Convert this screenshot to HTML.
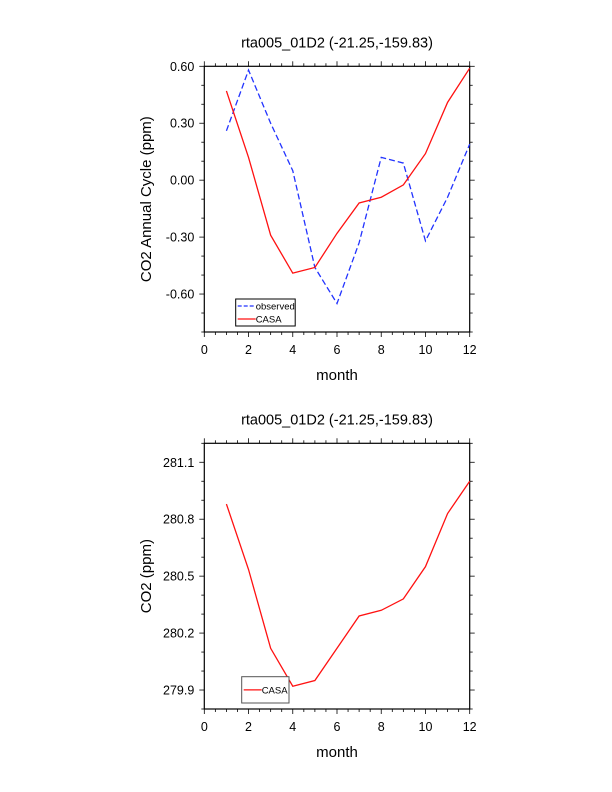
<!DOCTYPE html>
<html><head><meta charset="utf-8"><style>
body{margin:0;background:#fff;}
svg{display:block;font-family:"Liberation Sans",sans-serif;}
</style></head><body>
<svg id="chart" width="612" height="792" viewBox="0 0 612 792" xmlns="http://www.w3.org/2000/svg"></svg>
<script>
const months = [1,2,3,4,5,6,7,8,9,10,11,12];
const observedCycle = [0.26,0.58,0.30,0.05,-0.46,-0.65,-0.33,0.12,0.09,-0.32,-0.09,0.19];
const casaCycle = [0.47,0.12,-0.29,-0.49,-0.46,-0.28,-0.12,-0.09,-0.025,0.14,0.41,0.59];
const casaCO2 = [280.88,280.535,280.12,279.92,279.95,280.12,280.29,280.32,280.38,280.55,280.83,281.0];
const xTicks = [0,2,4,6,8,10,12];
const yTicksTop = [-0.6,-0.3,0,0.3,0.6];
const yTickLabelsTop = ["-0.60","-0.30","0.00","0.30","0.60"];
const yTicksBot = [279.9,280.2,280.5,280.8,281.1];
const yTickLabelsBot = ["279.9","280.2","280.5","280.8","281.1"];

const svg = document.getElementById('chart');
const NS = 'http://www.w3.org/2000/svg';
function mk(tag, attrs, parent){
  const e = document.createElementNS(NS, tag);
  for (const k in attrs) e.setAttribute(k, attrs[k]);
  (parent||svg).appendChild(e);
  return e;
}
function txt(s, attrs, parent){ const t = mk('text', attrs, parent); t.textContent = s; return t; }

function panel(o){
  const g = mk('g', {});
  
  
  const L=204.3, R=469.7, T=o.top, B=o.bottom;
  const sx = v => L + (v-0)/(12-0)*(R-L);
  const sy = v => B - (v-o.ymin)/(o.ymax-o.ymin)*(B-T);
  const frame = mk('rect',{x:L,y:T,width:R-L,height:B-T,fill:'none',stroke:'#000','stroke-width':1.2},g);
  
  
  for (let v=0; v<=12.001; v+=0.5){
    const major = Math.abs(v/2-Math.round(v/2))<1e-6;
    const len = major?5:3, x=sx(v);
    mk('line',{x1:x,y1:B,x2:x,y2:B+len,stroke:'#000','stroke-width':0.8},g);
    mk('line',{x1:x,y1:T,x2:x,y2:T-len,stroke:'#000','stroke-width':0.8},g);
  }
  xTicks.forEach(v=>{
    const t = txt(String(v),{x:sx(v),y:B+22,'font-size':12.5,'text-anchor':'middle'},g);
    
    
  });
  const step = o.minorStep;
  for (let v=o.ymin; v<=o.ymax+1e-6; v+=step){
    const k = Math.round((v-o.majors[0])/step);
    const major = k%3===0;
    const len = major?5:3, y=sy(v);
    mk('line',{x1:L,y1:y,x2:L-len,y2:y,stroke:'#000','stroke-width':0.8},g);
    mk('line',{x1:R,y1:y,x2:R+len,y2:y,stroke:'#000','stroke-width':0.8},g);
  }
  o.majors.forEach((v,i)=>{
    const t = txt(o.labels[i],{x:L-10,y:sy(v)+4.5,'font-size':12.5,'text-anchor':'end'},g);
    
    
  });
  const title = txt('rta005_01D2 (-21.25,-159.83)',{x:337,y:T-19,'font-size':14.5,'text-anchor':'middle'},g);
  
  
  const xl = txt('month',{x:337,y:B+48,'font-size':15,'text-anchor':'middle'},g);
  
  
  const yl = txt(o.ylabel,{x:0,y:0,'font-size':15,'text-anchor':'middle',transform:`translate(151,${(T+B)/2}) rotate(-90)`},g);
  
  
  o.series.forEach(s=>{
    const p = mk('polyline',{points:months.map((m,i)=>sx(m)+','+sy(s.data[i])).join(' '),fill:'none',stroke:s.color,'stroke-width':1.3,'stroke-dasharray':s.dash||'none'},g);
    
    
  });
  const lg = mk('g',{},g);
  
  
  const lb = o.legend;
  mk('rect',{x:lb.x,y:lb.y,width:lb.w,height:lb.h,fill:'#fff',stroke:lb.stroke,'stroke-width':1},lg);
  lb.entries.forEach((e,i)=>{
    const y = lb.y + lb.h/(lb.entries.length+1)*(i+1)+ (lb.entries.length>1?(i===0?-2:2):0);
    mk('line',{x1:lb.x+2,y1:y,x2:lb.x+20,y2:y,stroke:e.color,'stroke-width':1.3,'stroke-dasharray':e.dash||'none'},lg);
    const t = txt(e.label,{x:lb.x+20,y:y+3.5,'font-size':9.5},lg);
    
    
  });
}

panel({name:'annual-cycle-panel',top:66.3,bottom:332,ymin:-0.8,ymax:0.6,minorStep:0.1,
  majors:yTicksTop,labels:yTickLabelsTop,ylabel:'CO2 Annual Cycle (ppm)',
  series:[{name:'observed-line',data:observedCycle,color:'#2233ff',dash:'6,3'},{name:'casa-line',data:casaCycle,color:'#ff1111'}],
  legend:{x:235.7,y:299,w:59.5,h:27,stroke:'#000',entries:[{label:'observed',color:'#2233ff',dash:'4,2'},{label:'CASA',color:'#ff1111'}]}});
panel({name:'co2-panel',top:443.3,bottom:709,ymin:279.8,ymax:281.2,minorStep:0.1,
  majors:yTicksBot,labels:yTickLabelsBot,ylabel:'CO2 (ppm)',
  series:[{name:'casa-line',data:casaCO2,color:'#ff1111'}],
  legend:{x:241.7,y:676.7,w:47.3,h:26.3,stroke:'#555',entries:[{label:'CASA',color:'#ff1111'}]}});
</script>
</body></html>
